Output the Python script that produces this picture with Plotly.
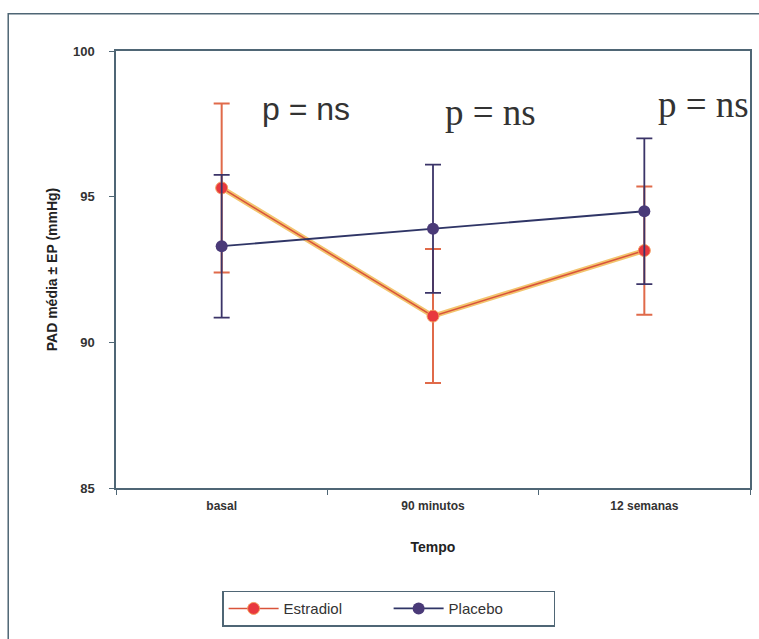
import plotly.graph_objects as go

categories = ["basal", "90 minutos", "12 semanas"]
estradiol = [95.3, 90.9, 93.15]
estradiol_err = [2.9, 2.3, 2.2]
placebo = [93.3, 93.9, 94.5]
placebo_err = [2.45, 2.2, 2.5]
y_ticks = [85, 90, 95, 100]
p_labels = ["p = ns", "p = ns", "p = ns"]

AX = "#4f6675"
fig = go.Figure()

# Estradiol halo (orange) under the red line
fig.add_trace(go.Scatter(
    x=categories, y=estradiol, mode="lines",
    line=dict(color="#f3c46e", width=5), showlegend=False, hoverinfo="skip"))
fig.add_trace(go.Scatter(
    x=categories, y=estradiol, mode="lines+markers", name="Estradiol",
    line=dict(color="#d9533a", width=1.5),
    marker=dict(color="#e8383e", size=12, line=dict(color="#f3a060", width=1)),
    error_y=dict(type="data", array=estradiol_err, color="#e06a4a", thickness=2, width=8)))
fig.add_trace(go.Scatter(
    x=categories, y=placebo, mode="lines+markers", name="Placebo",
    line=dict(color="#2f3566", width=1.8),
    marker=dict(color="#4a3a78", size=12),
    error_y=dict(type="data", array=placebo_err, color="#3b3468", thickness=1.8, width=8)))

fig.update_layout(
    width=759, height=639,
    margin=dict(l=116, r=7, t=51, b=151),
    paper_bgcolor="white", plot_bgcolor="white",
    font=dict(family="Arial", color="#333333"),
    showlegend=True,
    legend=dict(orientation="h", x=0.43, xanchor="center", y=-0.235, yanchor="top",
                bordercolor=AX, borderwidth=1.5, font=dict(size=15, color="#333"),
                itemwidth=50, entrywidth=100, traceorder="normal"),
)
fig.update_xaxes(
    type="category", range=[-0.5, 2.5], tickson="boundaries",
    ticks="outside", ticklen=5, tickcolor=AX, ticklabelstandoff=6,
    showline=True, linecolor=AX, linewidth=1.5, mirror=True, showgrid=False,
    tickfont=dict(size=12, color="#333", weight="bold"),
    title=dict(text="<b>Tempo</b>", font=dict(size=14, color="#222"), standoff=30))
fig.update_yaxes(
    range=[85, 100], tickvals=y_ticks, ticks="outside", ticklen=5, tickcolor=AX,
    ticklabelstandoff=12,
    showline=True, linecolor=AX, linewidth=1.5, mirror=True, showgrid=False, zeroline=False,
    tickfont=dict(size=13, color="#333", weight="bold"),
    title=dict(text="<b>PAD média ± EP (mmHg)</b>", font=dict(size=14, color="#222"), standoff=12))

# p = ns labels
fig.add_annotation(x=0.4, y=98.0, xref="x", yref="y", text=p_labels[0], showarrow=False,
                   font=dict(family="Liberation Sans", size=32, color="#333"))
fig.add_annotation(x=1.27, y=97.9, xref="x", yref="y", text=p_labels[1], showarrow=False,
                   font=dict(family="Times New Roman", size=37, color="#333"))
fig.add_annotation(x=2.28, y=98.15, xref="x", yref="y", text=p_labels[2], showarrow=False,
                   font=dict(family="Times New Roman", size=37, color="#333"))

# outer frame of the scanned figure
fig.add_shape(type="rect", xref="paper", yref="paper",
              x0=-0.17, x1=1.02, y0=-0.37, y1=1.085,
              line=dict(color=AX, width=1.5), layer="below")

fig.write_html("out.html")
